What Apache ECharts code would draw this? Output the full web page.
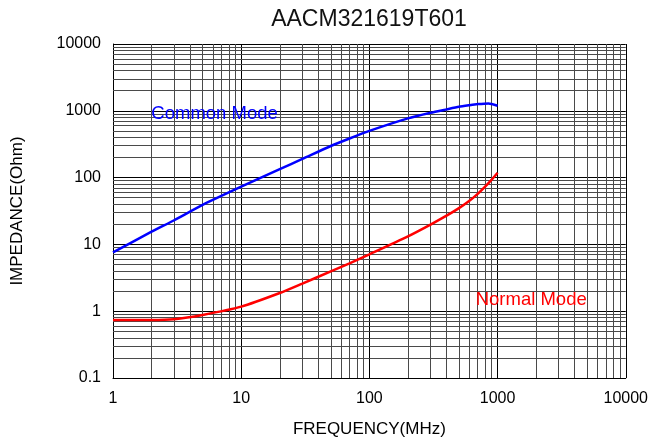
<!DOCTYPE html>
<html>
<head>
  <meta charset="utf-8">
  <title>AACM321619T601</title>
  <script src="https://cdn.jsdelivr.net/npm/echarts@6/dist/echarts.min.js"></script>
  <style>
    html, body { margin: 0; padding: 0; background: #fff; }
    #main { width: 651px; height: 444px; }
  </style>
</head>
<body>
  <div id="main"></div>
  <script type="text/javascript">
    // frequency points (MHz)
    var freqCommon = [1, 2, 3, 5, 10, 20, 30, 50, 70, 100, 200, 300, 400, 500, 600, 700, 850, 1000];
    var zCommon    = [7.6, 15.5, 23, 39, 73, 134, 190, 297, 385, 500, 769, 933, 1050, 1148, 1210, 1259, 1290, 1190];

    var freqNormal = [1, 2, 3, 5, 10, 20, 30, 50, 70, 100, 200, 300, 400, 500, 600, 700, 800, 900, 1000];
    var zNormal    = [0.74, 0.74, 0.76, 0.88, 1.17, 1.87, 2.59, 3.94, 5.2, 7.1, 13.2, 19.8, 26.9, 34.9, 44.6, 57, 73, 93, 118];

    var xDecades = [1, 10, 100, 1000];
    var yDecades = [0.1, 1, 10, 100, 1000];

    var labelCommon = 'Common Mode';
    var labelNormal = 'Normal Mode';

    function pairs(xs, ys) {
      var out = [];
      for (var i = 0; i < xs.length; i++) out.push([xs[i], ys[i]]);
      return out;
    }

    // minor grid lines 2..9 of every decade
    var minorLines = [];
    xDecades.forEach(function (d) {
      for (var k = 2; k <= 9; k++) minorLines.push({ xAxis: +(k * d).toPrecision(6) });
    });
    yDecades.forEach(function (d) {
      for (var k = 2; k <= 9; k++) minorLines.push({ yAxis: +(k * d).toPrecision(6) });
    });

    var plain = function (v) { return String(+v.toPrecision(6)); };

    var chart = echarts.init(document.getElementById('main'), null, { renderer: 'canvas' });

    var option = {
      animation: false,
      backgroundColor: '#fff',
      title: {
        text: 'AACM321619T601',
        left: 369,
        top: 8,
        padding: 0,
        textAlign: 'center',
        textStyle: { fontFamily: 'Liberation Sans', fontSize: 23, fontWeight: 'normal', color: '#111' }
      },
      grid: { left: 113, right: 25, top: 44, bottom: 66, containLabel: false },
      xAxis: {
        type: 'log',
        logBase: 10,
        min: 1,
        max: 10000,
        name: 'FREQUENCY(MHz)',
        nameLocation: 'middle',
        nameGap: 43,
        nameTextStyle: { fontFamily: 'Liberation Sans', fontSize: 17, color: '#000' },
        axisLine: { lineStyle: { color: '#000', width: 1 } },
        axisTick: { show: false },
        axisLabel: { fontFamily: 'Liberation Sans', fontSize: 16, color: '#000', margin: 13, formatter: plain },
        splitLine: { show: true, lineStyle: { color: '#000', width: 1 } }
      },
      yAxis: {
        type: 'log',
        logBase: 10,
        min: 0.1,
        max: 10000,
        name: 'IMPEDANCE(Ohm)',
        nameLocation: 'middle',
        nameGap: 87,
        nameTextStyle: { fontFamily: 'Liberation Sans', fontSize: 17, color: '#000' },
        axisLine: { show: true, lineStyle: { color: '#000', width: 1 } },
        axisTick: { show: false },
        axisLabel: { fontFamily: 'Liberation Sans', fontSize: 16, color: '#000', margin: 12, formatter: plain },
        splitLine: { show: true, lineStyle: { color: '#000', width: 1 } }
      },
      series: [
        {
          name: 'grid',
          type: 'line',
          data: [[1, 0.1]],
          symbol: 'none',
          silent: true,
          z: 1,
          lineStyle: { width: 0 },
          markLine: {
            silent: true,
            symbol: 'none',
            label: { show: false },
            lineStyle: { color: '#4a4a4a', width: 1, type: 'solid' },
            emphasis: { disabled: true },
            data: minorLines
          }
        },
        {
          name: labelCommon,
          type: 'line',
          data: pairs(freqCommon, zCommon),
          smooth: 0.2,
          symbol: 'none',
          z: 5,
          lineStyle: { color: '#0000ff', width: 2.5 },
          markPoint: {
            symbol: 'circle',
            symbolSize: 0,
            label: { show: true, formatter: labelCommon, color: '#0000ff', fontFamily: 'Liberation Sans', fontSize: 18.5, position: 'inside' },
            data: [{ coord: [6.2, 890] }]
          }
        },
        {
          name: labelNormal,
          type: 'line',
          data: pairs(freqNormal, zNormal),
          smooth: 0.2,
          symbol: 'none',
          z: 5,
          lineStyle: { color: '#ff0000', width: 2.5 },
          markPoint: {
            symbol: 'circle',
            symbolSize: 0,
            label: { show: true, formatter: labelNormal, color: '#ff0000', fontFamily: 'Liberation Sans', fontSize: 18.5, position: 'inside' },
            data: [{ coord: [1830, 1.48] }]
          }
        }
      ]
    };

    chart.setOption(option);
  </script>
</body>
</html>
